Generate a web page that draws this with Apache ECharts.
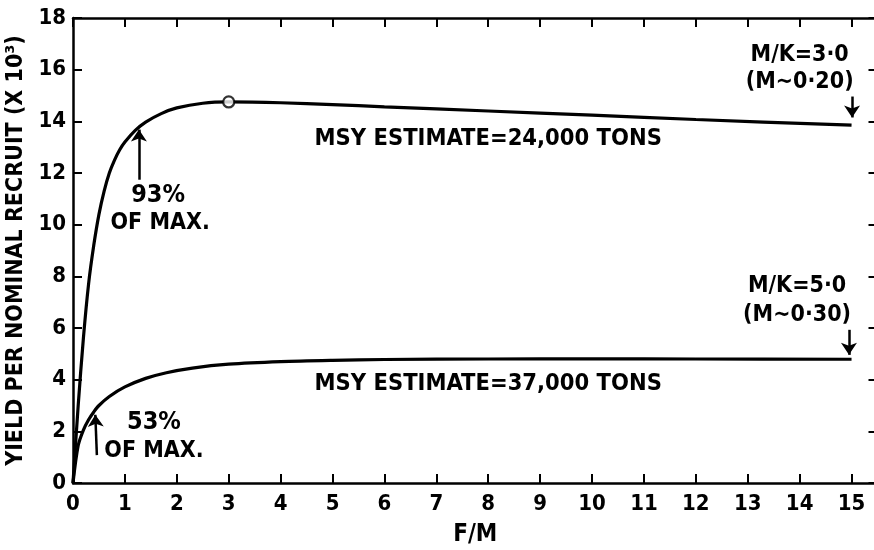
<!DOCTYPE html>
<html><head><meta charset="utf-8">
<script src="https://cdn.jsdelivr.net/npm/echarts@6/dist/echarts.min.js"></script>
<style>html,body{margin:0;padding:0;background:#fff}#c{width:874px;height:550px}</style>
</head><body><div id="c"></div>
<script>
// ---- data ----
const xTicks = [0,1,2,3,4,5,6,7,8,9,10,11,12,13,14,15];
const yTicks = [0,2,4,6,8,10,12,14,16,18];

// M/K = 3.0 curve
const upperX = [0,0.1,0.2,0.3,0.4,0.5,0.6,0.7,0.8,0.9,1.0,1.2,1.4,1.7,2.0,2.5,3,4,5,6,8,10,12,15];
const upperY = [0,3.0,5.6,7.7,9.2,10.4,11.3,12.0,12.5,12.9,13.2,13.65,13.97,14.3,14.52,14.7,14.75,14.72,14.65,14.56,14.4,14.24,14.07,13.85];

// M/K = 5.0 curve
const lowerX = [0,0.1,0.2,0.3,0.4,0.5,0.7,1.0,1.4,1.8,2.3,3,4,5,6,8,10,12,15];
const lowerY = [0,1.45,2.05,2.45,2.75,3.0,3.35,3.72,4.05,4.27,4.45,4.6,4.7,4.75,4.78,4.8,4.81,4.8,4.79];

// maximum marker on upper curve
const peakX = [3];
const peakY = [14.75];

// annotation texts and their data positions
const noteText = ['93%','OF MAX.','53%','OF MAX.','MSY ESTIMATE=24,000 TONS','MSY ESTIMATE=37,000 TONS','M/K=3·0','(M∼0·20)','M/K=5·0','(M∼0·30)'];
const noteX    = [1.64,1.68,1.56,1.56,8.0,8.0,14.0,14.0,13.95,13.95];
const noteY    = [11.12,10.08,2.33,1.24,13.33,3.84,16.55,15.54,7.64,6.51];

// arrows: tail -> head in data units
const arrowFromX = [1.27,0.46,15.01,14.95];
const arrowFromY = [11.74,1.08,14.96,5.93];
const arrowToX   = [1.27,0.43,15.01,14.95];
const arrowToY   = [13.68,2.64,14.15,4.96];

// ---- chart ----
const FONT = '"DejaVu Sans Condensed","DejaVu Sans",sans-serif';
const chart = echarts.init(document.getElementById('c'), null, {renderer:'canvas'});

const axisLine = {show:true, onZero:false, lineStyle:{color:'#000', width:2.5}};
const axisTick = {show:true, inside:true, length:9, lineStyle:{color:'#000', width:2}};
const labelStyle = {color:'#000', fontFamily:FONT, fontWeight:'bold', fontSize:22};

const zip = (xs, ys) => xs.map((x,i)=>[x, ys[i]]);

const noteSize = [25,23,25,23,23.5,23.5,23,23,23,23];
const notes = noteText.map((t,i)=>({
  value:[noteX[i], noteY[i]],
  label:{show:true, position:[0,0], align:'center', verticalAlign:'middle', formatter:t,
         color:'#000', opacity:1, textBorderWidth:0,
         fontFamily:FONT, fontWeight:'bold', fontSize:noteSize[i]}
}));

const arrows = arrowFromX.map((x,i)=>[{coord:[x, arrowFromY[i]]},{coord:[arrowToX[i], arrowToY[i]]}]);

chart.setOption({
  animation:false,
  backgroundColor:'#fff',
  grid:{left:73, top:18, right:-3.5, bottom:67, outerBoundsMode:'none', containLabel:false},
  xAxis:[
    {type:'value', position:'bottom', min:0, max:15.5, interval:1,
     splitLine:{show:false}, axisLine, axisTick,
     axisLabel:{...labelStyle, margin:10, formatter:v => xTicks.includes(v) ? String(v) : ''},
     name:'F/M', nameLocation:'middle', nameGap:40,
     nameTextStyle:{color:'#000', fontFamily:FONT, fontWeight:'bold', fontSize:24}},
    {type:'value', position:'top', min:0, max:15.5, interval:1,
     splitLine:{show:false}, axisLine, axisTick, axisLabel:{show:false}}
  ],
  yAxis:[
    {type:'value', position:'left', min:0, max:18, interval:2,
     splitLine:{show:false}, axisLine, axisTick,
     axisLabel:{...labelStyle, margin:7, formatter:v => yTicks.includes(v) ? String(v) : ''},
     name:'YIELD PER NOMINAL RECRUIT (X 10³)', nameLocation:'middle', nameGap:37, nameRotate:90,
     nameTextStyle:{color:'#000', fontFamily:FONT, fontWeight:'bold', fontSize:23}},
    {type:'value', position:'right', min:0, max:18, interval:2,
     splitLine:{show:false}, axisLine, axisTick, axisLabel:{show:false}}
  ],
  series:[
    {type:'line', name:'M/K=3.0', data:zip(upperX, upperY), smooth:0.3,
     symbol:'none', lineStyle:{color:'#000', width:3.2}, silent:true, z:3},
    {type:'line', name:'M/K=5.0', data:zip(lowerX, lowerY), smooth:0.3,
     symbol:'none', lineStyle:{color:'#000', width:3.2}, silent:true, z:3},
    {type:'line', name:'arrows', data:[], symbol:'none', silent:true, z:4,
     markLine:{silent:true, symbol:['none','arrow'], symbolSize:12, precision:4,
       lineStyle:{color:'#000', width:2.5, type:'solid'}, itemStyle:{color:'#000'},
       label:{show:false}, emphasis:{disabled:true}, animation:false,
       data:arrows}},
    {type:'scatter', data:zip(peakX, peakY), symbol:'circle', symbolSize:11,
     itemStyle:{color:'#fff', borderColor:'#000', borderWidth:2.2}, silent:true, z:5},
    {type:'scatter', data:notes, symbolSize:0, silent:true, z:6, emphasis:{disabled:true}}
  ]
});
</script>
</body></html>
